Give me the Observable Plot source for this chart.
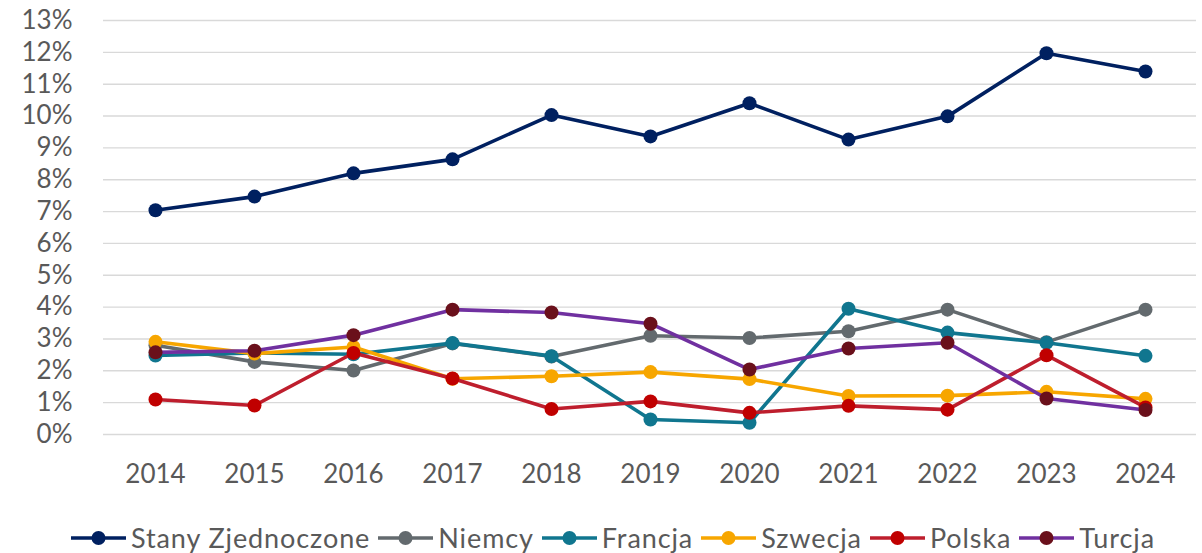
<!DOCTYPE html>
<html>
<head>
<meta charset="utf-8">
<script src="https://cdn.jsdelivr.net/npm/d3@7"></script>
<script src="https://cdn.jsdelivr.net/npm/@observablehq/plot@0.6"></script>
<style>
  html, body { margin: 0; padding: 0; background: #fff; }
  #chart { width: 1202px; height: 553px; position: relative; overflow: hidden; }
  #legend { display: flex; justify-content: center; align-items: center; height: 53px;
    padding-left: 32px; padding-top: 22px; box-sizing: border-box; font-family: Lato, "Noto Sans", sans-serif;
    font-size: 27px; letter-spacing: 0.9px; color: #595959; }
  .item { display: flex; align-items: center; margin-right: 8px; white-space: nowrap; }
  .item svg { margin-right: 5px; }
</style>
</head>
<body>
<div id="chart"></div>
<script>
const years = [2014, 2015, 2016, 2017, 2018, 2019, 2020, 2021, 2022, 2023, 2024];
const yTicks = [0,1,2,3,4,5,6,7,8,9,10,11,12,13];

const seriesNames = ["Stany Zjednoczone", "Niemcy", "Francja", "Szwecja", "Polska", "Turcja"];
const usa     = [7.04, 7.47, 8.20, 8.64, 10.03, 9.36, 10.40, 9.26, 9.99, 11.97, 11.40];
const niemcy  = [2.80, 2.28, 2.01, 2.86, 2.45, 3.10, 3.03, 3.24, 3.92, 2.90, 3.92];
const francja = [2.48, 2.56, 2.52, 2.87, 2.46, 0.47, 0.37, 3.95, 3.20, 2.88, 2.47];
const szwecja = [2.91, 2.54, 2.75, 1.75, 1.83, 1.96, 1.74, 1.21, 1.22, 1.34, 1.12];
const polska  = [1.10, 0.91, 2.56, 1.76, 0.80, 1.04, 0.68, 0.90, 0.78, 2.49, 0.85];
const turcja  = [2.58, 2.63, 3.12, 3.92, 3.83, 3.48, 2.04, 2.70, 2.88, 1.13, 0.77];
const seriesValues = [usa, niemcy, francja, szwecja, polska, turcja];

const lineColors   = ["#002060", "#636a6e", "#10768f", "#f7a600", "#be1e2d", "#7030a0"];
const markerColors = ["#002060", "#636a6e", "#10768f", "#f7a600", "#c00000", "#6a101b"];

const marks = [
  Plot.gridY(yTicks, {stroke: "#d9d9d9", strokeOpacity: 1, strokeWidth: 1.4})
];
seriesNames.forEach((name, i) => {
  const rows = years.map((yr, j) => ({year: yr, value: seriesValues[i][j], series: name}));
  marks.push(Plot.line(rows, {x: "year", y: "value", stroke: lineColors[i], strokeWidth: 3.6, curve: "linear"}));
  marks.push(Plot.dot(rows, {x: "year", y: "value", fill: markerColors[i], stroke: "none", r: 7}));
});

const chart = Plot.plot({
  width: 1202,
  height: 500,
  marginLeft: 103,
  marginRight: 6,
  marginTop: 20,
  marginBottom: 66,
  style: {fontFamily: "Lato, 'Noto Sans', sans-serif", fontSize: "26px", color: "#595959", background: "#fff"},
  x: {type: "point", domain: years, padding: 0.5, label: null, tickSize: 0, tickPadding: 30, tickFormat: d => String(d)},
  y: {domain: [0, 13], ticks: yTicks, tickFormat: d => d + "%", label: null, tickSize: 0, tickPadding: 31},
  marks
});
document.getElementById("chart").appendChild(chart);

const legend = document.createElement("div");
legend.id = "legend";
seriesNames.forEach((name, i) => {
  const item = document.createElement("div");
  item.className = "item";
  item.innerHTML = `<svg width="55" height="16" viewBox="0 0 55 16"><line x1="0" y1="8" x2="55" y2="8" stroke="${lineColors[i]}" stroke-width="3.6"/><circle cx="27.5" cy="8" r="7" fill="${markerColors[i]}"/></svg><span>${name}</span>`;
  legend.appendChild(item);
});
document.getElementById("chart").appendChild(legend);
</script>
</body>
</html>
